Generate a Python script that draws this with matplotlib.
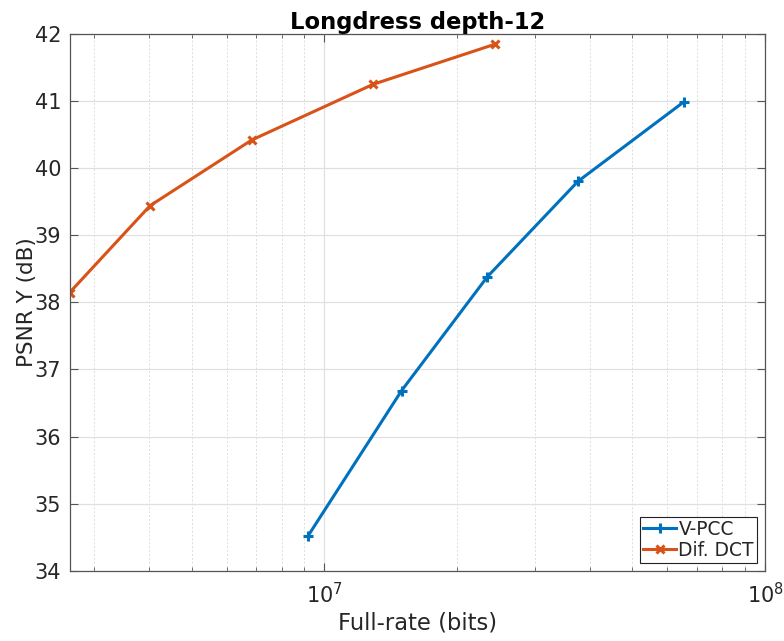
import matplotlib
matplotlib.use("Agg")
import matplotlib.pyplot as plt
import numpy as np

# data
vpcc_rate = [9.19e6, 1.497e7, 2.344e7, 3.763e7, 6.55e7]
vpcc_psnr = [34.527, 36.685, 38.381, 39.80, 40.985]

dct_rate = [2.64e6, 4.02e6, 6.84e6, 1.29e7, 2.436e7]
dct_psnr = [38.143, 39.437, 40.415, 41.244, 41.84]

txt = "#262626"
plt.rcParams['font.family'] = 'DejaVu Sans'

fig = plt.figure(figsize=(7.84, 6.41), dpi=100)
ax = fig.add_axes([0.0887, 0.1092, 0.8871, 0.8385])

ax.plot(vpcc_rate, vpcc_psnr, color="#0072BD", lw=2.2, marker="+", ms=7, mew=2.2, label="V-PCC")
ax.plot(dct_rate, dct_psnr, color="#D95319", lw=2.2, marker="x", ms=6, mew=2.2, label="Dif. DCT")

ax.set_xscale("log")
ax.set_xlim(2.64e6, 1e8)
ax.set_ylim(34, 42)
ax.set_yticks(range(34, 43))

ax.grid(True, which="major", color="#e0e0e0", lw=0.9, ls="-")
ax.grid(True, which="minor", axis="x", color="#dddddd", lw=0.7, ls=(0, (2, 2)))
ax.set_axisbelow(True)

ax.tick_params(which="both", direction="in", top=True, right=True, colors="#555555",
               labelcolor=txt, labelsize=15)
ax.tick_params(which="major", length=6, width=0.8)
ax.tick_params(which="minor", length=3, width=0.6)
ax.tick_params(axis="x", pad=8)
ax.tick_params(axis="y", pad=6)
for s in ax.spines.values():
    s.set_color("#555555")
    s.set_linewidth(0.9)

ax.set_xlabel("Full-rate (bits)", fontsize=16.3, color=txt, labelpad=3)
ax.set_ylabel("PSNR Y (dB)", fontsize=15.5, color=txt, labelpad=-2)
ax.set_title("Longdress depth-12", fontsize=16.3, fontweight="bold", pad=3)

leg = ax.legend(loc="lower right", fontsize=13.4, fancybox=False, framealpha=1,
                edgecolor="#222222", borderpad=0.15, handlelength=1.8,
                handletextpad=0.1, labelspacing=0.1, borderaxespad=0.45)
leg.get_frame().set_linewidth(0.8)
for t in leg.get_texts():
    t.set_color(txt)

fig.savefig("out.png", dpi=100)
